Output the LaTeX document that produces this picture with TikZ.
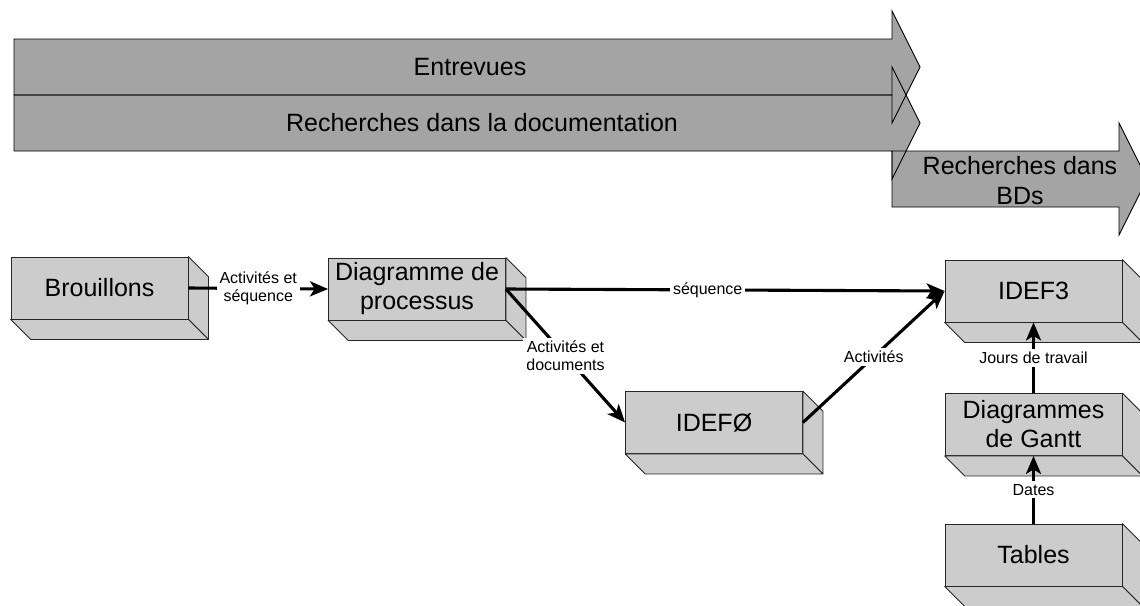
\documentclass[tikz,border=0pt]{standalone}
\usepackage{fontspec}
\setmainfont{Liberation Sans}
\usetikzlibrary{arrows.meta}

\definecolor{bandgray}{RGB}{164,164,164}
\definecolor{boxgray}{RGB}{204,204,204}

\tikzset{
  bandfill/.style={fill=bandgray},
  bandline/.style={draw=black, line width=0.9pt, line join=miter},
  bandtext/.style={font=\fontsize{25}{30}\selectfont, align=center, inner sep=0pt},
  boxface/.style={draw=black!85, fill=boxgray, line width=0.8pt,
    minimum width=177pt, minimum height=62pt, inner sep=0pt,
    align=center, font=\fontsize{25}{29}\selectfont},
  boxside/.style={draw=black!85, fill=boxgray, line width=0.8pt, line join=round},
  flow/.style={line width=3.1pt, -{Stealth[length=18pt,width=15pt,inset=4.5pt]}},
  flowlabel/.style={fill=white, font=\fontsize{16}{18}\selectfont,
    align=center, inner sep=3pt},
}

% a block drawn as a box with its right and bottom faces showing
\newcommand\blockbox[4]{%
  \node[boxface] (#1) at (#2,#3) {#4};
  \path[boxside] (#1.north east) -- ++(20,20) -- ([shift={(20,20)}]#1.south east)
    -- (#1.south east) -- cycle;
  \path[boxside] (#1.south west) -- ++(20,20) -- ([shift={(20,20)}]#1.south east)
    -- (#1.south east) -- cycle;
}

\begin{document}
\begin{tikzpicture}[x=1pt, y=-1pt]
  \useasboundingbox (0,0) rectangle (1140,605);
  \clip (0,0) rectangle (1140,605);

  % phase bands: fills first, then every outline on top
  \path[bandfill] (14,39) -- (892,39) -- (892,11) -- (920,67) -- (892,123)
    -- (892,95) -- (14,95) -- cycle;
  \path[bandfill] (14,95) -- (892,95) -- (892,67) -- (920,123) -- (892,179)
    -- (892,151) -- (14,151) -- cycle;
  \path[bandfill] (892,151) -- (1119,151) -- (1119,123) -- (1147,179) -- (1119,235)
    -- (1119,207) -- (892,207) -- cycle;
  \path[bandline] (14,39) -- (892,39) -- (892,11) -- (920,67) -- (892,123)
    -- (892,95) -- (14,95) -- cycle;
  \path[bandline] (14,95) -- (892,95) -- (892,67) -- (920,123) -- (892,179)
    -- (892,151) -- (14,151) -- cycle;
  \path[bandline] (892,151) -- (1119,151) -- (1119,123) -- (1147,179) -- (1119,235)
    -- (1119,207) -- (892,207) -- cycle;

  \node[bandtext] (entrevues) at (470,67) {Entrevues};
  \node[bandtext] (documentation) at (482,123) {Recherches dans la documentation};
  \node[bandtext] (bds) at (1020,181) {Recherches dans\\BDs};

  % blocks
  \blockbox{brou}{99.5}{288}{Brouillons}
  \blockbox{diag}{417}{289}{Diagramme de\\processus}
  \blockbox{idef3}{1033.5}{291}{IDEF3}
  \blockbox{idef0}{714}{422.5}{IDEFØ}
  \blockbox{gantt}{1033.5}{424.5}{Diagrammes\\de Gantt}
  \blockbox{tables}{1033.5}{555}{Tables}

  % flows between blocks
  \draw[flow] (brou.east) -- node[flowlabel] {Activités et\\séquence} (diag.west);
  \draw[flow] (diag.east) -- node[flowlabel, pos=0.46] {séquence} (idef3.west);
  \draw[flow] (diag.east) -- node[flowlabel] {Activités et\\documents} (idef0.west);
  \draw[flow] (idef0.east) -- node[flowlabel] {Activités} (idef3.west);
  \draw[flow] (gantt.north) -- node[flowlabel] {Jours de travail} (idef3.south);
  \draw[flow] (tables.north) -- node[flowlabel] {Dates} (gantt.south);
\end{tikzpicture}
\end{document}
